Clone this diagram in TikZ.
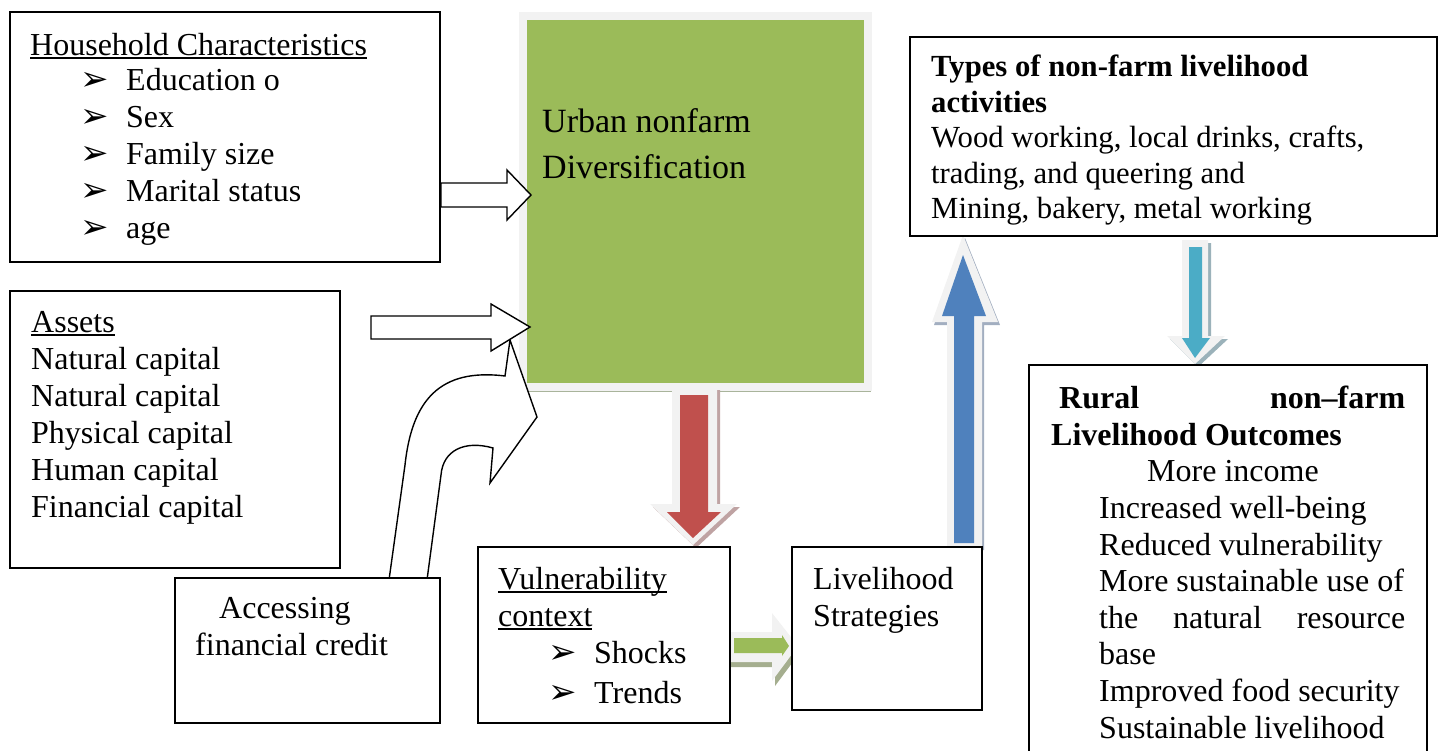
\documentclass[tikz,border=0pt]{standalone}
\usepackage{fontspec}
\setmainfont{Liberation Serif}
\newfontfamily\dingfont{DejaVu Sans}
\usetikzlibrary{positioning}

\definecolor{urbgreen}{HTML}{9BBB59}
\definecolor{framegray}{HTML}{F2F2F2}
\definecolor{greenshade}{HTML}{A9B49B}
\definecolor{arrred}{HTML}{C0504D}
\definecolor{redshade}{HTML}{BFA3A3}
\definecolor{arrblue}{HTML}{4F81BD}
\definecolor{blueshade}{HTML}{A2AEC0}
\definecolor{arrteal}{HTML}{4BACC6}
\definecolor{tealshade}{HTML}{9BB2BA}
\definecolor{lgreenshade}{HTML}{A5AE8F}

\newcommand{\bul}{\makebox[46pt][l]{\dingfont\fontsize{34}{34}\selectfont ➢}}
\newlength{\ulwd}
\newcommand{\uln}[1]{\settowidth{\ulwd}{#1}\rlap{\rule[-3.5pt]{\ulwd}{1.5pt}}#1}

\begin{document}
\begin{tikzpicture}[x=1pt,y=-1pt,
  box/.style={draw,line width=1.8pt,fill=white,anchor=north west,inner sep=0pt,outer sep=0pt},
  txt/.style={anchor=north west,inner sep=0pt,align=left,font=\fontsize{32}{37}\selectfont},
  hollow/.style={draw,fill=white,line width=1.4pt,line join=miter}]
  \useasboundingbox (0,0) rectangle (1438,750);
  \clip (0,0) rectangle (1438,750);

  % green centre box
  \fill[greenshade] (519,12) rectangle (871,392);
  \node[draw=framegray,line width=8pt,fill=urbgreen,anchor=north west,inner sep=0pt,
    minimum width=345.5pt,minimum height=370.5pt] (urban) at (518.5,12) {};

  % hollow arrows
  \filldraw[hollow] (389,580) -- (405,465) .. controls (412,400) and (440,368) .. (505,376)
    -- (510,340) -- (537,417) -- (490,483) -- (493,448)
    .. controls (465,440) and (443,450) .. (441,475) -- (427,580) -- cycle;
  \filldraw[hollow] (371,316) -- (491,316) -- (491,304) -- (530,327) -- (491,351)
    -- (491,339) -- (371,339) -- cycle;
  \filldraw[hollow] (441,183) -- (507,183) -- (507,170) -- (531,195) -- (507,220)
    -- (507,207) -- (441,207) -- cycle;

  % red arrow
  \fill[redshade,xshift=3pt,yshift=-3pt] (672,387) -- (717,387) -- (717,504) -- (737,504)
    -- (693,545) -- (650,504) -- (672,504) -- cycle;
  \fill[framegray] (672,387) -- (717,387) -- (717,504) -- (737,504)
    -- (693,545) -- (650,504) -- (672,504) -- cycle;
  \fill[arrred] (680,395) -- (708,395) -- (708,512) -- (721,512) -- (693,538)
    -- (667,512) -- (680,512) -- cycle;

  % blue arrow
  \fill[blueshade,xshift=2pt,yshift=-3pt] (947,547) -- (947,322) -- (932,322) -- (963,235)
    -- (998,322) -- (982,322) -- (982,547) -- cycle;
  \fill[framegray] (947,547) -- (947,322) -- (932,322) -- (963,235)
    -- (998,322) -- (982,322) -- (982,547) -- cycle;
  \fill[arrblue] (954,543) -- (954,316) -- (942,316) -- (963,255) -- (986,316)
    -- (974,316) -- (974,543) -- cycle;

  % teal arrow
  \fill[tealshade,xshift=3pt,yshift=-3pt] (1182,240) -- (1208,240) -- (1208,336) -- (1225,336)
    -- (1195,364) -- (1167,336) -- (1182,336) -- cycle;
  \fill[framegray] (1182,240) -- (1208,240) -- (1208,336) -- (1225,336)
    -- (1195,364) -- (1167,336) -- (1182,336) -- cycle;
  \fill[arrteal] (1189,247) -- (1202,247) -- (1202,338) -- (1210,338) -- (1195,358)
    -- (1182,338) -- (1189,338) -- cycle;

  % small green arrow
  \fill[lgreenshade,xshift=3pt,yshift=-5pt] (726,632) -- (772,632) -- (772,613) -- (798,646)
    -- (772,681) -- (772,662) -- (726,662) -- cycle;
  \fill[framegray] (726,632) -- (772,632) -- (772,613) -- (798,646)
    -- (772,681) -- (772,662) -- (726,662) -- cycle;
  \fill[urbgreen] (734,638) -- (782,638) -- (782,635) -- (789,646) -- (782,656)
    -- (782,653) -- (734,653) -- cycle;

  % boxes
  \node[box,minimum width=430pt,minimum height=250pt] (house) at (10,12) {};
  \node[box,minimum width=330pt,minimum height=277pt] (assets) at (10,291) {};
  \node[box,minimum width=265pt,minimum height=145pt] (credit) at (175,578) {};
  \node[box,minimum width=252pt,minimum height=176pt] (vuln) at (478,547) {};
  \node[box,minimum width=190pt,minimum height=163pt] (strat) at (792,547) {};
  \node[box,minimum width=527pt,minimum height=199pt] (types) at (910,37) {};
  \node[box,minimum width=398pt,minimum height=420pt] (outcome) at (1029,365) {};

  % texts
  \node[txt] (housetxt) at (30,33) {\uln{Household Characteristics}\\[-2pt]
    \hspace*{50pt}\bul Education o\\
    \hspace*{50pt}\bul Sex\\
    \hspace*{50pt}\bul Family size\\
    \hspace*{50pt}\bul Marital status\\
    \hspace*{50pt}\bul age};
  \node[txt] (assetstxt) at (31,311) {\uln{Assets}\\
    Natural capital\\
    Natural capital\\
    Physical capital\\
    Human capital\\
    Financial capital};
  \node[txt] (credittxt) at (195,597) {\hspace*{24pt}Accessing\\financial credit};
  \node[txt,font=\fontsize{34}{46}\selectfont] (urbantxt) at (542,108)
    {Urban nonfarm\\Diversification};
  \node[txt] (vulntxt) at (498,567) {\uln{Vulnerability}\\
    \uln{context}\\
    \hspace*{50pt}\bul Shocks\\[3pt]
    \hspace*{50pt}\bul Trends};
  \node[txt] (strattxt) at (813,567) {Livelihood\\Strategies};
  \node[txt,font=\fontsize{30.7}{35.5}\selectfont] (typestxt) at (931,55)
    {\textbf{Types of non-farm livelihood}\\
    \textbf{activities}\\
    Wood working, local drinks, crafts,\\
    trading, and queering and\\
    Mining, bakery, metal working};
  \node[txt,font=\fontsize{32}{36.6}\selectfont] (outcometxt) at (1051,386)
    {\hspace*{8pt}\makebox[346pt][l]{\textbf{Rural}\hfill\textbf{non–farm}}\\
    \textbf{Livelihood Outcomes}\\
    \hspace*{96pt}More income\\
    \hspace*{48pt}Increased well-being\\
    \hspace*{48pt}Reduced vulnerability\\
    \hspace*{48pt}More sustainable use of\\
    \hspace*{48pt}\makebox[306pt][l]{the\hfill natural\hfill resource}\\
    \hspace*{48pt}base\\
    \hspace*{48pt}Improved food security\\
    \hspace*{48pt}Sustainable livelihood};
\end{tikzpicture}
\end{document}
